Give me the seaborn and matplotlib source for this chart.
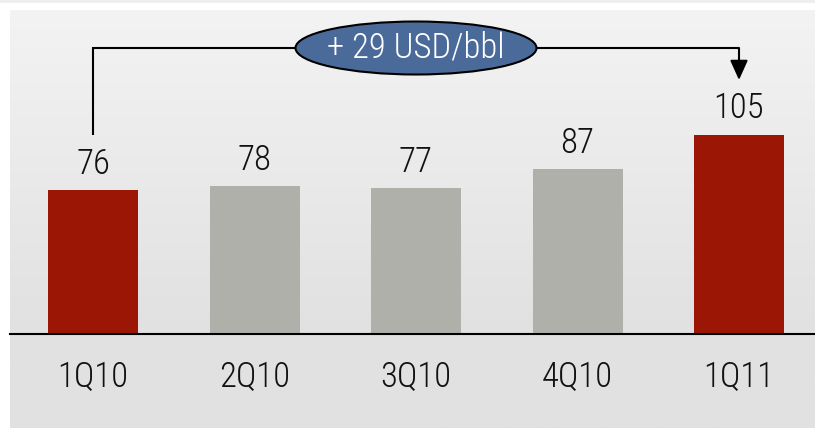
import numpy as np
import pandas as pd
import seaborn as sns
import matplotlib.pyplot as plt
from matplotlib.patches import Ellipse
from matplotlib.colors import LinearSegmentedColormap

quarters = ["1Q10", "2Q10", "3Q10", "4Q10", "1Q11"]
prices = [76, 78, 77, 87, 105]
change_label = "+ 29 USD/bbl"

RED = "#9c1605"
GREY = "#afb0aa"
BLUE = "#4a6b9a"
bar_colors = [RED, GREY, GREY, GREY, RED]

sns.set_style("white")
plt.rcParams["font.family"] = ["Roboto Condensed", "Liberation Sans Narrow", "Roboto", "DejaVu Sans"]
plt.rcParams["font.stretch"] = "condensed"
plt.rcParams["font.weight"] = "light"

W, H = 815, 428
fig = plt.figure(figsize=(W / 100, H / 100), dpi=100)

# background: thin grey strip on top, white gap, then the gradient panel
bg = fig.add_axes([0, 0, 1, 1])
bg.set_xlim(0, W)
bg.set_ylim(H, 0)
bg.axis("off")
bg.axhspan(0, 3, color="#eeeeee", lw=0)
grad = LinearSegmentedColormap.from_list("g", ["#f3f3f3", "#e1e1e1"])
ramp = np.clip(np.linspace(0, 1, 200) * 1.3, 0, 1).reshape(-1, 1)
bg.imshow(ramp, cmap=grad, extent=[10, W, H, 10], aspect="auto", vmin=0, vmax=1)

# main axes: baseline at 334px from top, px per unit 1.9, category spacing 161.5px
base = 334
ppu = 1.9
step = 161.5
x0 = 93
ax = fig.add_axes([10 / W, (H - base) / H, (W - 10) / W, (base - 10) / H])
ax.patch.set_alpha(0)

df = pd.DataFrame({"quarter": quarters, "price": prices})
sns.barplot(data=df, x="quarter", y="price", hue="quarter", palette=bar_colors,
            width=90 / step, legend=False, saturation=1, linewidth=0, ax=ax)

ax.set_xlim(-(x0 - 10) / step, (W - x0) / step)
ax.set_ylim(0, (base - 10) / ppu)
sns.despine(ax=ax, left=True, top=True, right=True)
ax.spines["bottom"].set_color("black")
ax.spines["bottom"].set_linewidth(1.5)
ax.set_yticks([])
ax.set_xlabel("")
ax.set_ylabel("")
ax.tick_params(axis="x", length=0, pad=31, labelsize=25, labelcolor="#111111")
for lab in ax.get_xticklabels():
    lab.set_verticalalignment("center")
    lab.set_fontweight("light")

for i, v in enumerate(prices):
    ax.text(i, v + 13.6, str(v), ha="center", va="center", fontsize=25,
            fontweight="light", color="#111111")

# bracket from first to last quarter
top_y = (base - 48) / ppu
gap = 28.7
ax.plot([0, 0, 4], [prices[0] + gap, top_y, top_y], color="black", lw=1.5,
        solid_capstyle="butt", solid_joinstyle="miter", clip_on=False)
ax.annotate("", xy=(4, prices[-1] + gap), xytext=(4, top_y),
            arrowprops=dict(arrowstyle="-|>,head_length=0.6,head_width=0.27",
                            mutation_scale=20, color="black", lw=1.5,
                            shrinkA=0, shrinkB=0))
ax.add_patch(Ellipse((2, top_y), 241 / step, 53 / ppu, facecolor=BLUE,
                     edgecolor="black", lw=1.5, zorder=5, clip_on=False))
ax.text(2, top_y, change_label, ha="center", va="center", fontsize=25,
        fontweight="light", color="white", zorder=6)

plt.savefig("out.png", dpi=100)
